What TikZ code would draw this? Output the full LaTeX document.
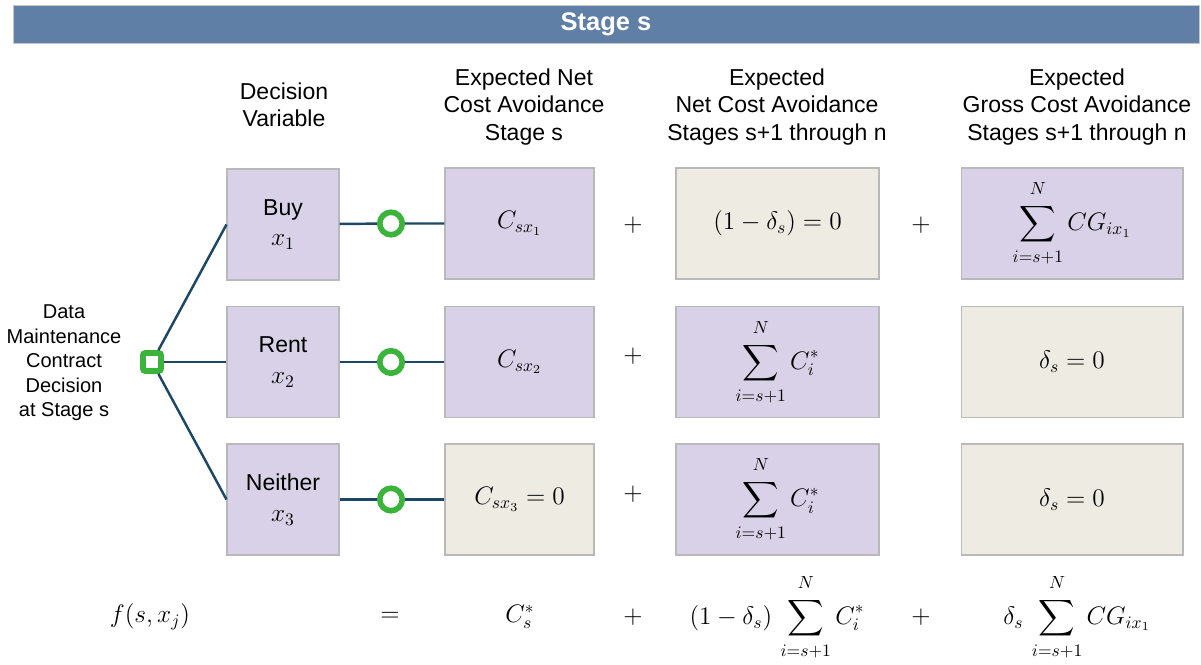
\documentclass[tikz,border=0pt]{standalone}
\usepackage{amsmath}
\usepackage{fontspec}
\setmainfont{Liberation Sans}
\usepackage{tikz}
\usepackage{xcolor}

\definecolor{barblue}{RGB}{95,127,166}
\definecolor{lilac}{RGB}{216,209,231}
\definecolor{stone}{RGB}{237,235,226}
\definecolor{navyline}{RGB}{28,72,102}
\definecolor{nodegreen}{RGB}{60,180,60}
\newcommand{\sumtop}{\raisebox{2.5pt}{$\scriptstyle N$}}
\newcommand{\sumbot}{\raisebox{-1.5pt}{$\scriptstyle i=s+1$}}

\begin{document}
\begin{tikzpicture}[x=0.02cm,y=-0.02cm,font=\fontsize{13.1}{15.6}\selectfont,
  cell/.style={draw=gray!55,line width=0.6pt,minimum height=2.22cm,inner sep=0pt,align=center},
  lilcell/.style={cell,fill=lilac},
  stonecell/.style={cell,fill=stone},
  mathtext/.style={font=\fontsize{14.4}{17}\selectfont},
  link/.style={navyline,line width=1.4pt},
  chance/.style={circle,draw=nodegreen,fill=white,line width=3.2pt,minimum size=0.45cm,inner sep=0pt},
  choice/.style={rectangle,rounded corners=1.2pt,draw=nodegreen,fill=white,line width=3.2pt,minimum size=0.36cm,inner sep=0pt}]
\useasboundingbox (0,0) rectangle (1201,665);
% title bar
\node[fill=barblue,draw=gray!45,minimum width=23.72cm,minimum height=0.76cm,inner sep=0pt,
  text=white,font=\bfseries\fontsize{14.5}{17}\selectfont] (bar) at (606,24) {Stage s};
% column heads
\node[align=center] (hdec) at (284,105) {Decision\\Variable};
\node[align=center] (hnet) at (524,107) {Expected Net\\Cost Avoidance\\Stage s};
\node[align=center] (hfut) at (777,107) {Expected\\Net Cost Avoidance\\Stages s+1 through n};
\node[align=center] (hgross) at (1077,107) {Expected\\Gross Cost Avoidance\\Stages s+1 through n};
% decision node
\node[align=center,font=\fontsize{11.4}{13.9}\selectfont] (declbl) at (64,363)
  {Data\\Maintenance\\Contract\\Decision\\at Stage s};
\node[choice] (dec) at (152,362) {};
% decision variables
\node[lilcell,minimum width=2.24cm,font=\fontsize{13.1}{17.5}\selectfont] (buy) at (283,224.5)
  {Buy\\{\fontsize{14.4}{17.5}\selectfont$x_1$}};
\node[lilcell,minimum width=2.24cm,font=\fontsize{13.1}{17.5}\selectfont] (rent) at (283,362)
  {Rent\\{\fontsize{14.4}{17.5}\selectfont$x_2$}};
\node[lilcell,minimum width=2.24cm,font=\fontsize{13.1}{17.5}\selectfont] (neither) at (283,499.5)
  {Neither\\{\fontsize{14.4}{17.5}\selectfont$x_3$}};
% stage s
\node[lilcell,mathtext,minimum width=2.98cm] (netbuy) at (519.5,223.5) {$C_{sx_1}$};
\node[lilcell,mathtext,minimum width=2.98cm] (netrent) at (519.5,362) {$C_{sx_2}$};
\node[stonecell,mathtext,minimum width=2.98cm] (netneither) at (519.5,499.5) {$C_{sx_3}=0$};
% stages s+1 through n, net
\node[stonecell,mathtext,minimum width=4.06cm] (futbuy) at (777.5,223.5) {$(1-\delta_s)=0$};
\node[lilcell,mathtext,minimum width=4.06cm] (futrent) at (777.5,362) {$\displaystyle\sum_{\sumbot}^{\sumtop} C_i^*$};
\node[lilcell,mathtext,minimum width=4.06cm] (futneither) at (777.5,499.5) {$\displaystyle\sum_{\sumbot}^{\sumtop} C_i^*$};
% stages s+1 through n, gross
\node[lilcell,mathtext,minimum width=4.44cm] (grossbuy) at (1072,223.5) {$\displaystyle\sum_{\sumbot}^{\sumtop} CG_{ix_1}$};
\node[stonecell,mathtext,minimum width=4.44cm] (grossrent) at (1072,362) {$\delta_s=0$};
\node[stonecell,mathtext,minimum width=4.44cm] (grossneither) at (1072,499.5) {$\delta_s=0$};
% chance nodes
\node[chance] (o1) at (391,223.5) {};
\node[chance] (o2) at (391,362) {};
\node[chance] (o3) at (391,499.5) {};
\draw[link] (dec) -- (buy.west);
\draw[link] (dec) -- (rent);
\draw[link] (dec) -- (neither.west);
\draw[link] (buy) -- (o1) -- (netbuy);
\draw[link] (rent) -- (o2) -- (netrent);
\draw[link] (neither) -- (o3) -- (netneither);
% plus signs
\node[mathtext] (p1) at (633,225) {$+$};
\node[mathtext] (p2) at (633,356) {$+$};
\node[mathtext] (p3) at (633,494) {$+$};
\node[mathtext] (q1) at (921,225) {$+$};
% sum row
\node[mathtext] (fsx) at (150,617) {$f(s,x_j)$};
\node[mathtext] (eq) at (390,617) {$=$};
\node[mathtext] (cs) at (520,617) {$C_s^*$};
\node[mathtext] (p4) at (633,617) {$+$};
\node[mathtext] (futsum) at (777,617) {$\displaystyle(1-\delta_s)\,\sum_{\sumbot}^{\sumtop} C_i^*$};
\node[mathtext] (q2) at (921,617) {$+$};
\node[mathtext] (grosssum) at (1077,617) {$\displaystyle\delta_s\,\sum_{\sumbot}^{\sumtop} CG_{ix_1}$};
\end{tikzpicture}
\end{document}
